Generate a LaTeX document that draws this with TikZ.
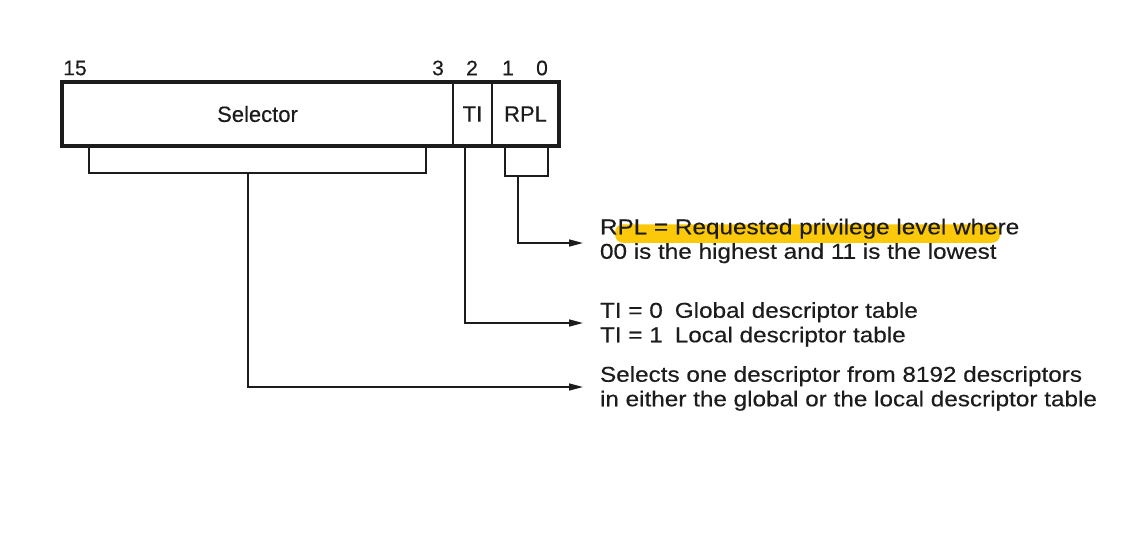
\documentclass[tikz,border=0pt]{standalone}
\usepackage{fontspec}
\setmainfont{Liberation Sans}[FakeBold=0.35]
\newfontfamily\descfont{Liberation Sans}[FakeStretch=1.13,FakeBold=0.35]
\usetikzlibrary{arrows.meta,calc,backgrounds}
\definecolor{ink}{RGB}{28,28,28}
\definecolor{hl}{RGB}{252,200,10}
\newcommand\lnstrut{\rule[-3.1pt]{0pt}{21.6pt}}
\begin{document}
\begin{tikzpicture}[x=1pt,y=-1pt,
  field/.style={draw=ink, line width=2.6pt, anchor=north west, minimum height=64pt,
    inner sep=0pt, outer sep=0pt, text=ink, font=\fontsize{22}{24}\selectfont},
  outerbox/.style={draw=ink, line width=3.2pt},
  bitno/.style={inner sep=0pt, text=ink, font=\fontsize{21}{23}\selectfont},
  brk/.style={draw=ink, line width=2.6pt},
  conn/.style={draw=ink, line width=1.5pt, -{Triangle[length=14pt,width=7pt]}},
  desc/.style={anchor=west, align=left, inner xsep=17pt, inner ysep=0pt, outer sep=0pt,
    text=ink, font=\descfont\fontsize{21.5}{24.5}\selectfont}]
\useasboundingbox (0,0) rectangle (1127,542);
\begin{scope}[on background layer]
  \fill[white] (0,0) rectangle (1127,542);
\end{scope}

% register fields
\node[field, minimum width=391pt] (sel) at (62,82) {Selector\hspace{12pt}};
\node[field, minimum width=39pt] (ti) at (453,82) {TI};
\node[field, minimum width=67pt] (rpl) at (492,82) {RPL};
\draw[outerbox] (sel.north west) rectangle (rpl.south east);

% bit numbers
\node[bitno] (b15) at (75,68) {15};
\node[bitno] (b3) at (438,68) {3};
\node[bitno] (b2) at (472,68) {2};
\node[bitno] (b1) at (508,68) {1};
\node[bitno] (b0) at (542,68) {0};

% descriptions
\node[desc] (rpltxt) at (583,239.5) {\lnstrut RPL = Requested privilege level where\\\lnstrut 00 is the highest and 11 is the lowest};
\node[desc] (titxt) at (583,323) {\lnstrut TI = 0\hspace{12pt}Global descriptor table\\\lnstrut TI = 1\hspace{12pt}Local descriptor table};
\node[desc] (seltxt) at (583,387) {\lnstrut Selects one descriptor from 8192 descriptors\\\lnstrut in either the global or the local descriptor table};
\coordinate (rplin) at ($(rpltxt.west)+(0,3.5)$);

% highlight
\begin{scope}[on background layer]
  \fill[hl, rounded corners=8pt] ($(rpltxt.north west)+(32,8.5)$) rectangle ($(rpltxt.north west)+(417,27)$);
\end{scope}

% brackets
\coordinate (sbl) at (89,146);
\coordinate (sbr) at (426,146);
\coordinate (sstem) at (248,173);
\draw[brk] (sbl) -- ++(0,27) -| (sbr);
\coordinate (rbl) at (505,146);
\coordinate (rbr) at (548,146);
\coordinate (rstem) at (518,176);
\draw[brk] (rbl) -- ++(0,30) -| (rbr);
\coordinate (tstem) at (465,146);

% connectors
\draw[conn] (rstem) |- (rplin);
\draw[conn] (tstem) |- (titxt.west);
\draw[conn] (sstem) |- (seltxt.west);
\end{tikzpicture}
\end{document}
